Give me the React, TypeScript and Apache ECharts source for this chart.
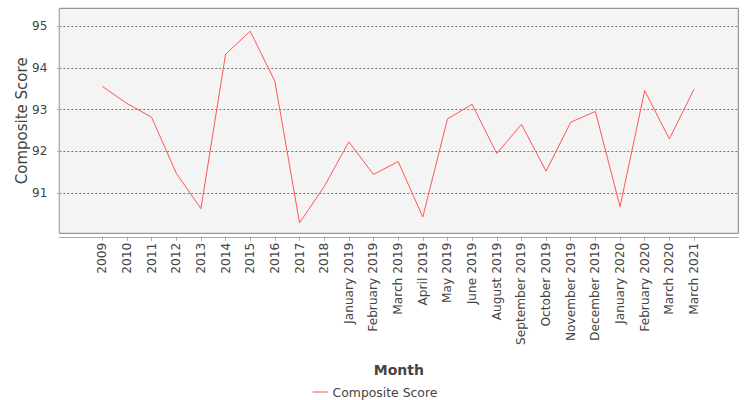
import React, { useEffect, useRef } from "react";
import * as echarts from "echarts";

const categories: string[] = [
  "2009", "2010", "2011", "2012", "2013", "2014", "2015", "2016", "2017", "2018",
  "January 2019", "February 2019", "March 2019", "April 2019", "May 2019", "June 2019",
  "August 2019", "September 2019", "October 2019", "November 2019", "December 2019",
  "January 2020", "February 2020", "March 2020", "March 2021",
];

const compositeScore: number[] = [
  93.56, 93.15, 92.82, 91.48, 90.63, 94.33, 94.88, 93.68, 90.29, 91.16,
  92.23, 91.45, 91.76, 90.43, 92.78, 93.13,
  91.95, 92.65, 91.53, 92.70, 92.96,
  90.68, 93.46, 92.30, 93.49,
];

const seriesName = "Composite Score";
const xAxisTitle = "Month";
const yAxisTitle = "Composite Score";

const FONT = "DejaVu Sans";
const TEXT = "#444444";

export default function App() {
  const ref = useRef<HTMLDivElement>(null);
  useEffect(() => {
    if (!ref.current) return;
    const chart = echarts.init(ref.current, undefined, { renderer: "svg" });
    const yMin = 90.04;
    const yMax = 95.43;
    const plot = { left: 59.3, right: 11.7, top: 8.3, bottom: 166.7 };
    chart.setOption({
      animation: false,
      backgroundColor: "#ffffff",
      textStyle: { fontFamily: FONT },
      grid: [
        {
          ...plot,
          show: true,
          backgroundColor: "#f4f4f4",
          borderColor: "#808080",
          borderWidth: 1,
          containLabel: false,
        },
        {
          left: 102.3,
          right: 56,
          top: plot.top,
          bottom: plot.bottom,
          containLabel: false,
        },
      ],
      xAxis: [
        {
          gridIndex: 0,
          type: "value",
          min: 0,
          max: 1,
          position: "bottom",
          offset: 3.5,
          name: xAxisTitle,
          nameLocation: "middle",
          nameGap: 126.5,
          nameMoveOverlap: false,
          nameTextStyle: { fontFamily: FONT, fontSize: 14, fontWeight: "bold", color: TEXT },
          axisLine: { show: true, lineStyle: { color: "#aaaaaa", width: 1 } },
          axisTick: { show: false },
          axisLabel: { show: false },
          splitLine: { show: false },
        },
        {
          gridIndex: 1,
          type: "category",
          data: categories,
          boundaryGap: false,
          position: "bottom",
          offset: 3.5,
          axisLine: { show: false },
          axisTick: { show: true, alignWithLabel: true, interval: 0, length: 4, lineStyle: { color: "#aaaaaa" } },
          axisLabel: {
            interval: 0,
            rotate: 90,
            margin: 6,
            fontFamily: FONT,
            fontSize: 12.2,
            color: TEXT,
          },
          splitLine: { show: false },
        },
      ],
      yAxis: [
        {
          gridIndex: 0,
          type: "value",
          min: yMin,
          max: yMax,
          minInterval: 1,
          maxInterval: 1,
          position: "left",
          offset: 4,
          name: yAxisTitle,
          nameLocation: "middle",
          nameGap: 26,
          nameMoveOverlap: false,
          nameRotate: 90,
          nameTextStyle: { fontFamily: FONT, fontSize: 15, fontWeight: "normal", color: TEXT },
          axisLine: { show: true, lineStyle: { color: "#aaaaaa", width: 1 } },
          axisTick: { show: true, length: 2, lineStyle: { color: "#aaaaaa" } },
          axisLabel: {
            showMinLabel: false,
            showMaxLabel: false,
            margin: 8,
            fontFamily: FONT,
            fontSize: 12,
            color: TEXT,
          },
          splitLine: {
            show: true,
            showMinLine: false,
            showMaxLine: false,
            lineStyle: { color: "#777777", type: [2, 2], width: 1 },
          },
        },
        {
          gridIndex: 1,
          type: "value",
          min: yMin,
          max: yMax,
          show: false,
          splitLine: { show: false },
        },
      ],
      legend: {
        data: [{ name: seriesName, icon: "rect" }],
        left: "center",
        top: 381,
        itemWidth: 15,
        itemHeight: 1,
        itemGap: 10,
        textStyle: { fontFamily: FONT, fontSize: 12.4, color: TEXT },
      },
      series: [
        {
          name: seriesName,
          type: "line",
          xAxisIndex: 1,
          yAxisIndex: 1,
          data: compositeScore,
          symbol: "none",
          showSymbol: false,
          lineStyle: { color: "#ff5555", width: 1 },
          itemStyle: { color: "#ff5555" },
        },
      ],
    });
    return () => chart.dispose();
  }, []);
  return (
    <div
      ref={ref}
      style={{ position: "fixed", left: 0, top: 0, width: 750, height: 400 }}
    />
  );
}
